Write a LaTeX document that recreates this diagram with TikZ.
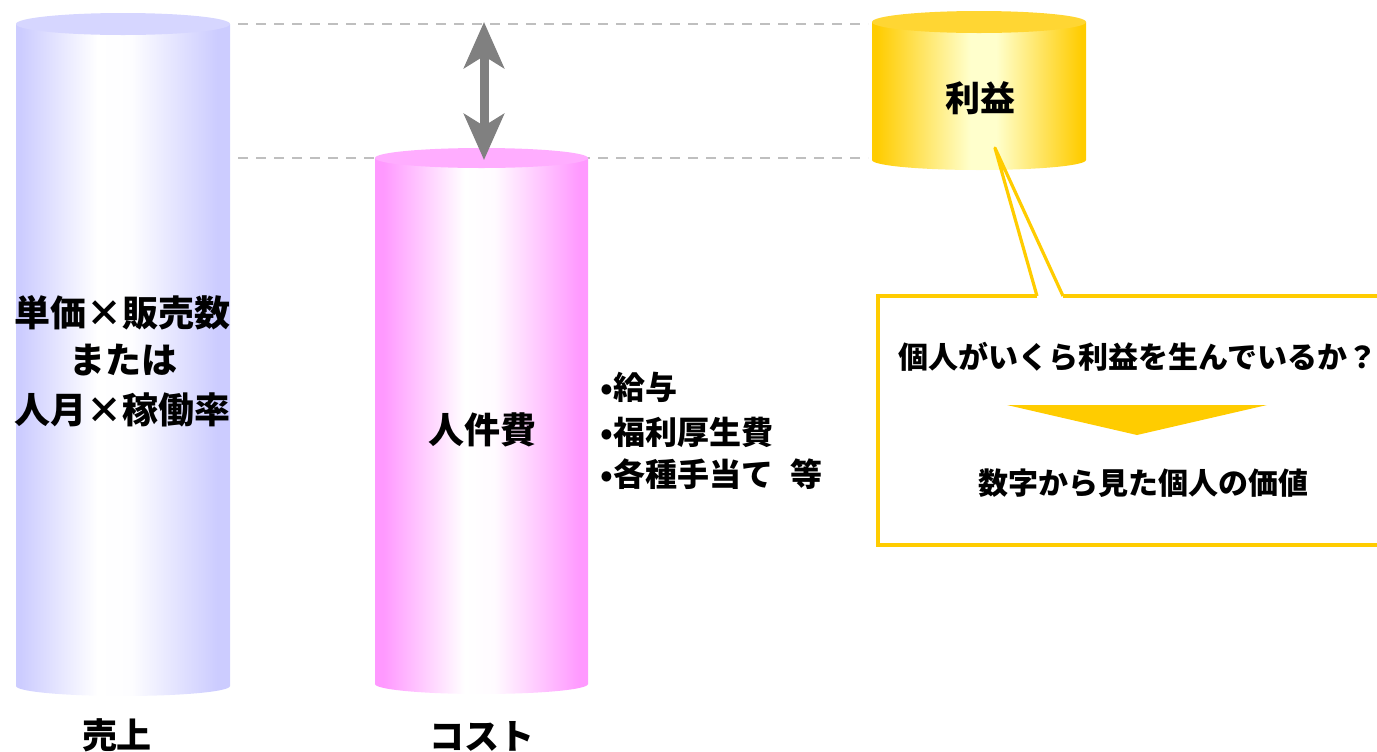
\documentclass[tikz,border=0pt]{standalone}
\usepackage{fontspec}
\setmainfont{Noto Sans CJK JP}
\usetikzlibrary{arrows.meta}
\definecolor{blueC}{HTML}{CCCCFF}
\definecolor{blueTop}{HTML}{D6D6FF}
\definecolor{pinkC}{HTML}{FF99FF}
\definecolor{pinkTop}{HTML}{FFADFF}
\definecolor{goldC}{HTML}{FFCC00}
\definecolor{goldTop}{HTML}{FFD633}
\definecolor{goldL}{HTML}{FFFFCC}
\definecolor{dashC}{HTML}{BFBFBF}
\definecolor{arrowC}{HTML}{808080}
\pgfdeclarehorizontalshading{blueshade}{100bp}{color(0bp)=(blueC); color(26bp)=(blueC); color(44bp)=(white); color(52bp)=(white!96!blueC); color(72bp)=(blueC); color(100bp)=(blueC)}
\pgfdeclarehorizontalshading{pinkshade}{100bp}{color(0bp)=(pinkC); color(27bp)=(pinkC); color(46bp)=(white); color(53bp)=(white!96!pinkC); color(73bp)=(pinkC); color(100bp)=(pinkC)}
\pgfdeclarehorizontalshading{goldshade}{100bp}{color(0bp)=(goldC); color(26bp)=(goldC); color(48bp)=(goldL); color(54bp)=(goldL); color(74bp)=(goldC); color(100bp)=(goldC)}
\tikzset{
  txt/.style={font=\bfseries\fontsize{#1}{#1}\selectfont, inner sep=0pt, anchor=center},
  dashline/.style={draw=dashC, line width=1.4pt, dash pattern=on 5pt off 4pt},
  calloutline/.style={draw=goldC, line width=1.6pt},
  bigtip/.tip={Stealth[length=23pt, width=20pt, inset=6pt]},
}
\begin{document}
\begin{tikzpicture}[x=0.5pt, y=-0.5pt]
\clip (0,0) rectangle (1377,751);
% dashed guide lines
\coordinate (d1a) at (238,24); \coordinate (d1b) at (868,24);
\coordinate (d2a) at (238,158); \coordinate (d2b) at (868,158);
\draw[dashline] (d1a) -- (d1b);
\draw[dashline] (d2a) -- (d2b);
% blue cylinder (売上)
\shade[shading=blueshade] (16,24) -- (16,686) arc[start angle=180, end angle=360, x radius=53.5pt, y radius=5pt] -- (230,24) -- cycle;
\fill[blueTop] (123,24) ellipse[x radius=53.5pt, y radius=5.5pt];
% pink cylinder (コスト)
\shade[shading=pinkshade] (375,158) -- (375,684) arc[start angle=180, end angle=360, x radius=53.25pt, y radius=5pt] -- (588,158) -- cycle;
\fill[pinkTop] (481.5,158) ellipse[x radius=53.25pt, y radius=5pt];
% gold cylinder (利益)
\shade[shading=goldshade] (872,22) -- (872,160) arc[start angle=180, end angle=360, x radius=53.5pt, y radius=5pt] -- (1086,22) -- cycle;
\fill[goldTop] (979,22) ellipse[x radius=53.5pt, y radius=5.5pt];
% double arrow
\coordinate (atop) at (484,22);
\coordinate (abot) at (484,160);
\draw[arrowC, line width=4.5pt, bigtip-bigtip] (atop) -- (abot);
% callout
\coordinate (tip) at (995,148);
\coordinate (pl) at (1037,296);
\coordinate (pr) at (1063,296);
\fill[white] (878,296) rectangle (1390,545);
\draw[calloutline, line join=miter] (pl) -- (878,296) -- (878,545) -- (1390,545) -- (1390,296) -- (pr);
\draw[calloutline, line join=round] (pl) -- (tip) -- (pr);
\fill[goldC] (1007,405) -- (1267,405) -- (1137,435) -- cycle;
% texts
\node[txt=18pt] (t1) at (123,313) {単価×販売数};
\node[txt=18pt] (t2) at (123,360) {または};
\node[txt=18pt] (t3) at (123,410) {人月×稼働率};
\node[txt=18pt] (jinken) at (482,430) {人件費};
\node[txt=17.5pt] (rieki) at (980,98) {利益};
\node[txt=16pt, anchor=west] (b1) at (600,387) {•給与};
\node[txt=16pt, anchor=west] (b2) at (600,432) {•福利厚生費};
\node[txt=16pt, anchor=west] (b3) at (600,474) {•各種手当て\hspace{0.55em}等};
\node[txt=17.5pt] (uri) at (117,735) {売上};
\node[txt=17.5pt] (cost) at (482,736) {コスト};
\node[txt=15pt] (q) at (1138,357) {個人がいくら利益を生んでいるか？};
\node[txt=15pt] (v) at (1143,483) {数字から見た個人の価値};
\end{tikzpicture}
\end{document}
